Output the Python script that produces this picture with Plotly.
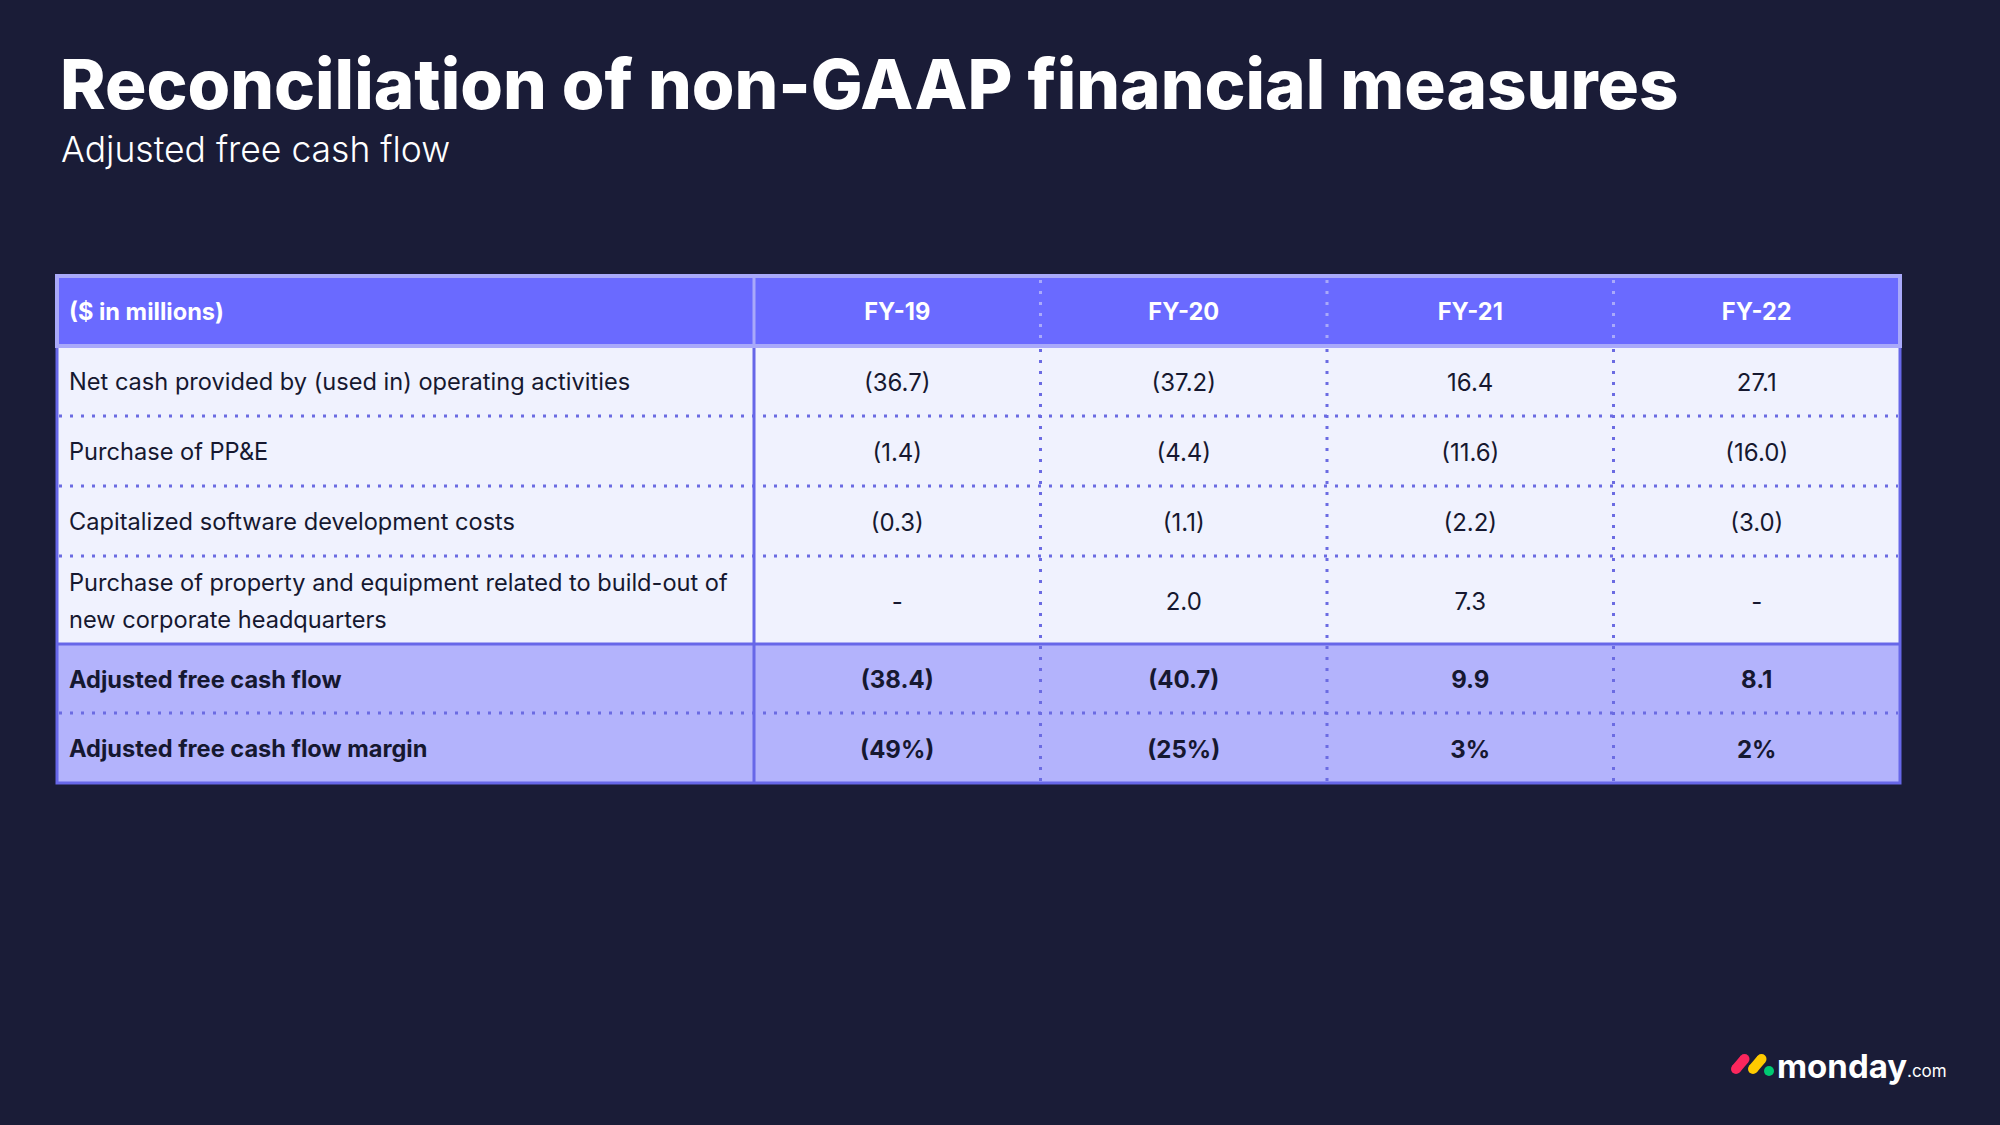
import plotly.graph_objects as go

# ---------------- data ----------------
title_text = "Reconciliation of non-GAAP financial measures"
subtitle_text = "Adjusted free cash flow"
header_label = "($ in millions)"
years = ["FY-19", "FY-20", "FY-21", "FY-22"]
row_labels = [
    "Net cash provided by (used in) operating activities",
    "Purchase of PP&E",
    "Capitalized software development costs",
    "Purchase of property and equipment related to build-out of\nnew corporate headquarters",
    "Adjusted free cash flow",
    "Adjusted free cash flow margin",
]
fy19 = [-36.7, -1.4, -0.3, None, -38.4, -49]
fy20 = [-37.2, -4.4, -1.1, 2.0, -40.7, -25]
fy21 = [16.4, -11.6, -2.2, 7.3, 9.9, 3]
fy22 = [27.1, -16.0, -3.0, None, 8.1, 2]
row_is_pct = [False, False, False, False, False, True]
row_is_total = [False, False, False, False, True, True]
values = [fy19, fy20, fy21, fy22]

# ---------------- style ----------------
W, H = 2000, 1125
BG = "#1a1c37"
HEAD_FILL = "#6a6aff"
HEAD_BORDER = "#a9a9fa"
BODY_FILL = "#f0f2fe"
TOTAL_FILL = "#b3b3fc"
LINE = "#6767e8"
DOT = "#6b6be2"
TEXT_DARK = "#161830"
FONT = "Inter"

X0 = 57
col_widths = [697, 286.5, 286.5, 286.5, 286.5]
Y0 = 276
header_h = 70
row_heights = [70, 70, 70, 88, 69, 70]
PAD = 12
FS = 23.6
FS_VAL = 24
LINE_GAP = 37
TEXT_DY = 3.5

col_edges = [X0]
for w in col_widths:
    col_edges.append(col_edges[-1] + w)
row_edges = [Y0 + header_h]
for h in row_heights:
    row_edges.append(row_edges[-1] + h)
X1 = col_edges[-1]
YB = row_edges[-1]
col_centers = [(col_edges[i] + col_edges[i + 1]) / 2 for i in range(len(col_widths))]
row_centers = [(row_edges[i] + row_edges[i + 1]) / 2 + TEXT_DY for i in range(len(row_heights))]
head_center = Y0 + header_h / 2 + TEXT_DY


def fmt(v, pct):
    if v is None:
        return "-"
    s = f"{abs(v):.0f}%" if pct else f"{abs(v):.1f}"
    return f"({s})" if v < 0 else s


shapes = []
# fills
shapes.append(dict(type="rect", xref="x", yref="y", x0=X0, x1=X1, y0=Y0, y1=Y0 + header_h,
                   fillcolor=HEAD_FILL, line_width=0, layer="below"))
for i, h in enumerate(row_heights):
    shapes.append(dict(type="rect", xref="x", yref="y", x0=X0, x1=X1, y0=row_edges[i], y1=row_edges[i + 1],
                       fillcolor=TOTAL_FILL if row_is_total[i] else BODY_FILL, line_width=0, layer="below"))

# horizontal separators
for i in range(1, len(row_heights)):
    y = row_edges[i]
    if row_is_total[i] and not row_is_total[i - 1]:
        shapes.append(dict(type="line", xref="x", yref="y", x0=X0, x1=X1, y0=y, y1=y,
                           line=dict(color=LINE, width=3)))
    else:
        shapes.append(dict(type="line", xref="x", yref="y", x0=X0 + 2, x1=X1 - 2, y0=y, y1=y,
                           line=dict(color=DOT, width=3, dash="3px,8px")))

# vertical separators
for j in range(2, len(col_edges) - 1):
    x = col_edges[j]
    shapes.append(dict(type="line", xref="x", yref="y", x0=x, x1=x, y0=Y0 + 4, y1=Y0 + header_h,
                       line=dict(color=HEAD_BORDER, width=3, dash="3px,8px")))
    shapes.append(dict(type="line", xref="x", yref="y", x0=x, x1=x, y0=Y0 + header_h + 3, y1=YB,
                       line=dict(color=DOT, width=3, dash="3px,8px")))
x = col_edges[1]
shapes.append(dict(type="line", xref="x", yref="y", x0=x, x1=x, y0=Y0 + header_h, y1=YB,
                   line=dict(color=LINE, width=3)))
shapes.append(dict(type="line", xref="x", yref="y", x0=x, x1=x, y0=Y0, y1=Y0 + header_h,
                   line=dict(color=HEAD_BORDER, width=3)))
# outer borders
shapes.append(dict(type="rect", xref="x", yref="y", x0=X0, x1=X1, y0=Y0 + header_h, y1=YB,
                   line=dict(color=LINE, width=3), fillcolor="rgba(0,0,0,0)"))
shapes.append(dict(type="rect", xref="x", yref="y", x0=X0, x1=X1, y0=Y0, y1=Y0 + header_h,
                   line=dict(color=HEAD_BORDER, width=4), fillcolor="rgba(0,0,0,0)"))

# ---------------- logo ----------------
PILL = 10
for (xa, ya, xb, yb, c) in [(1736, 1069, 1744.5, 1059, "#fb275d"), (1753, 1069, 1761.5, 1059, "#ffcb00")]:
    shapes.append(dict(type="line", xref="x", yref="y", x0=xa, y0=ya, x1=xb, y1=yb,
                       line=dict(color=c, width=PILL)))
    for (cx, cy) in [(xa, ya), (xb, yb)]:
        shapes.append(dict(type="circle", xref="x", yref="y", x0=cx - PILL / 2, x1=cx + PILL / 2,
                           y0=cy - PILL / 2, y1=cy + PILL / 2, fillcolor=c, line_width=0))
shapes.append(dict(type="circle", xref="x", yref="y", x0=1764, x1=1774, y0=1066, y1=1076,
                   fillcolor="#00ca72", line_width=0))

fig = go.Figure()

# header text
fig.add_trace(go.Scatter(x=[col_edges[0] + PAD], y=[head_center], mode="text", text=[header_label],
                         textposition="middle right",
                         textfont=dict(family=FONT, size=FS, color="white", weight="bold"),
                         hoverinfo="skip", showlegend=False))
fig.add_trace(go.Scatter(x=col_centers[1:], y=[head_center] * len(years), mode="text", text=years,
                         textposition="middle center",
                         textfont=dict(family=FONT, size=FS, color="white", weight="bold"),
                         hoverinfo="skip", showlegend=False))

# row labels
lx, ly, lt, lw = [], [], [], []
for i, lab in enumerate(row_labels):
    parts = lab.split("\n")
    n = len(parts)
    for k, p in enumerate(parts):
        lx.append(col_edges[0] + PAD)
        ly.append(row_centers[i] + (k - (n - 1) / 2) * LINE_GAP)
        lt.append(p)
        lw.append("bold" if row_is_total[i] else "normal")
for wgt in ["normal", "bold"]:
    idx = [k for k in range(len(lt)) if lw[k] == wgt]
    fig.add_trace(go.Scatter(x=[lx[k] for k in idx], y=[ly[k] for k in idx], mode="text",
                             text=[lt[k] for k in idx], textposition="middle right",
                             textfont=dict(family=FONT, size=FS, color=TEXT_DARK, weight=wgt),
                             hoverinfo="skip", showlegend=False))

# values
for j, col in enumerate(values):
    for wgt, flag in [("normal", False), ("bold", True)]:
        idx = [i for i in range(len(col)) if row_is_total[i] == flag]
        fig.add_trace(go.Scatter(x=[col_centers[j + 1]] * len(idx), y=[row_centers[i] for i in idx],
                                 mode="text", text=[fmt(col[i], row_is_pct[i]) for i in idx],
                                 textposition="middle center",
                                 textfont=dict(family=FONT, size=FS_VAL, color=TEXT_DARK, weight=wgt),
                                 hoverinfo="skip", showlegend=False))

annotations = [
    dict(x=58, y=84, xref="x", yref="y", text=title_text, showarrow=False, xanchor="left", yanchor="middle",
         font=dict(family=FONT, size=69, color="white", weight=800)),
    dict(x=59, y=149, xref="x", yref="y", text=subtitle_text, showarrow=False, xanchor="left", yanchor="middle",
         font=dict(family=FONT, size=35.5, color="white", weight=300)),
    dict(x=1775, y=1066, xref="x", yref="y", text="monday", showarrow=False, xanchor="left", yanchor="middle",
         font=dict(family=FONT, size=33, color="white", weight="bold")),
    dict(x=1905, y=1071, xref="x", yref="y", text=".com", showarrow=False, xanchor="left", yanchor="middle",
         font=dict(family=FONT, size=17, color="white")),
]

fig.update_layout(
    width=W, height=H, margin=dict(l=0, r=0, t=0, b=0),
    paper_bgcolor=BG, plot_bgcolor=BG,
    xaxis=dict(range=[0, W], domain=[0, 1], visible=False, fixedrange=True),
    yaxis=dict(range=[H, 0], domain=[0, 1], visible=False, fixedrange=True),
    shapes=shapes, annotations=annotations, showlegend=False,
)

fig.write_html("out.html", config={"displayModeBar": False},
               post_script="document.body.style.margin='0';document.body.style.overflow='hidden';")
